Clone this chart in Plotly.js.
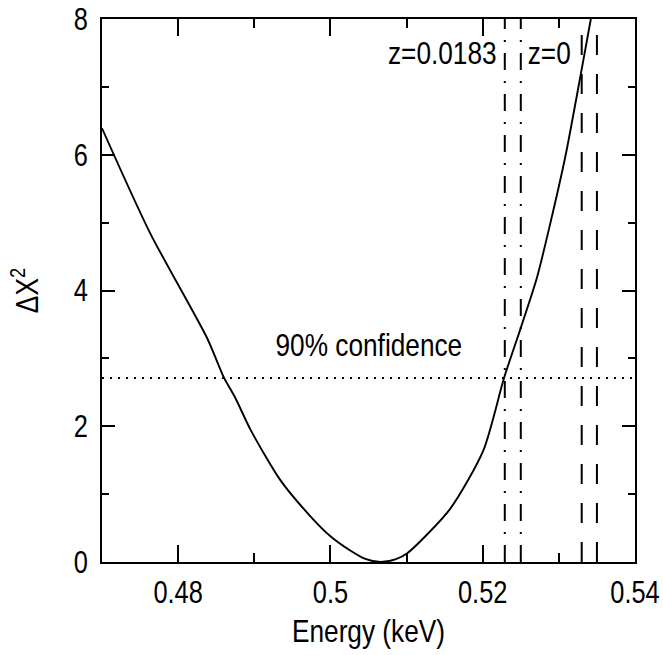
<!DOCTYPE html>
<html>
<head>
<meta charset="utf-8">
<script src="https://cdn.plot.ly/plotly-3.0.1.min.js"></script>
<style>html,body{margin:0;padding:0;background:#fff;}#chart{width:663px;height:655px;}</style>
</head>
<body>
<div id="chart"></div>
<script>
// Delta chi-square curve vs line energy
var energy = [0.4700, 0.4763, 0.4838, 0.4860, 0.4875, 0.4895, 0.4934, 0.4974, 0.5000, 0.5026, 0.5046, 0.5066, 0.5086, 0.5101, 0.5157, 0.5201, 0.5228, 0.5250, 0.5271, 0.5289, 0.5309, 0.5329, 0.5342];
var deltaChi2 = [6.39, 4.85, 3.30, 2.72, 2.42, 1.95, 1.21, 0.67, 0.38, 0.17, 0.045, 0.00, 0.043, 0.13, 0.78, 1.65, 2.71, 3.45, 4.18, 5.00, 6.00, 7.20, 8.00];
var confLevel = 2.71;           // 90% confidence, one parameter
var zDotDash = [0.5229, 0.5250]; // z = 0.0183 pair
var zDashed = [0.5330, 0.5350];  // z = 0 pair
var xTickVals = [0.48, 0.50, 0.52, 0.54];
var xTickText = ["0.48", "0.5", "0.52", "0.54"];
var xMinorVals = [0.49, 0.51, 0.53];
var yTickVals = [0, 2, 4, 6, 8];
var yMinorVals = [1, 3, 5, 7];
var labels = {conf: "90% confidence", zHigh: "z=0.0183", zZero: "z=0", xTitle: "Energy (keV)", yTitle: "ΔX<sup>2</sup>"};
var xRange = [0.47, 0.54];
var yRange = [0, 8];

var FONT = "'Liberation Sans', Arial, sans-serif";
var SQUEEZE = 0.82;
var traces = [];
traces.push({x: energy, y: deltaChi2, mode: "lines", line: {color: "#000", width: 1.9, shape: "spline", smoothing: 0.7}, hoverinfo: "skip"});
traces.push({x: xRange, y: [confLevel, confLevel], mode: "lines", line: {color: "#000", width: 2, dash: "2px,6px"}, hoverinfo: "skip"});
zDotDash.forEach(function (v) {
  traces.push({x: [v, v], y: yRange, mode: "lines", line: {color: "#000", width: 2, dash: "17px,11px,2px,11px"}, hoverinfo: "skip"});
});
zDashed.forEach(function (v) {
  traces.push({x: [v, v], y: yRange, mode: "lines", line: {color: "#000", width: 2, dash: "20px,19px"}, hoverinfo: "skip"});
});

var layout = {
  width: 663, height: 655,
  margin: {l: 102, r: 28, t: 19, b: 93},
  showlegend: false,
  paper_bgcolor: "#fff", plot_bgcolor: "#fff",
  font: {family: FONT, color: "#000", size: 31},
  xaxis: {
    range: xRange, showgrid: false, zeroline: false,
    showline: true, linewidth: 2, linecolor: "#000", mirror: "allticks",
    ticks: "inside", ticklen: 17, tickwidth: 2, tickcolor: "#000",
    tickmode: "array", tickvals: xTickVals, ticktext: xTickText,
    minor: {tickmode: "array", tickvals: xMinorVals, ticks: "inside", ticklen: 9, tickwidth: 2, tickcolor: "#000", showgrid: false},
    tickfont: {family: FONT, size: 31},
    ticklabeloverflow: "allow",
    ticklabelstandoff: 2,
    title: {text: labels.xTitle, font: {family: FONT, size: 32}, standoff: 10}
  },
  yaxis: {
    range: yRange, showgrid: false, zeroline: false,
    showline: true, linewidth: 2, linecolor: "#000", mirror: "allticks",
    ticks: "inside", ticklen: 13, tickwidth: 2, tickcolor: "#000",
    tickmode: "array", tickvals: yTickVals,
    minor: {tickmode: "array", tickvals: yMinorVals, ticks: "inside", ticklen: 7, tickwidth: 2, tickcolor: "#000", showgrid: false},
    tickfont: {family: FONT, size: 31},
    ticklabeloverflow: "allow",
    ticklabelstandoff: 6,
    title: {text: labels.yTitle, font: {family: FONT, size: 32}, standoff: 22}
  },
  annotations: [
    {x: 0.505, y: 3.2, xref: "x", yref: "y", text: labels.conf, showarrow: false, font: {family: FONT, size: 32, color: "#000"}, xanchor: "center", yanchor: "middle"},
    {x: zDotDash[0], y: 7.5, xref: "x", yref: "y", text: labels.zHigh, showarrow: false, font: {family: FONT, size: 32, color: "#000"}, xanchor: "right", yanchor: "middle", xshift: 6},
    {x: zDotDash[1], y: 7.5, xref: "x", yref: "y", text: labels.zZero, showarrow: false, font: {family: FONT, size: 32, color: "#000"}, xanchor: "left", yanchor: "middle", xshift: 0}
  ]
};

Plotly.newPlot("chart", traces, layout, {displayModeBar: false, staticPlot: true}).then(function (gd) {
  // condense glyphs horizontally to mimic the narrow plotting font
  var texts = gd.querySelectorAll("svg text");
  Array.prototype.forEach.call(texts, function (t) {
    if (!t.textContent) return;
    var bb = t.getBBox();
    var anchor = t.getAttribute("text-anchor") || window.getComputedStyle(t).textAnchor || "start";
    var cx = anchor === "middle" ? bb.x + bb.width / 2 : (anchor === "end" ? bb.x + bb.width : bb.x);
    var tr = t.getAttribute("transform") || "";
    t.setAttribute("transform", tr + " translate(" + cx + ",0) scale(" + SQUEEZE + ",1) translate(" + (-cx) + ",0)");
  });
});
</script>
</body>
</html>
